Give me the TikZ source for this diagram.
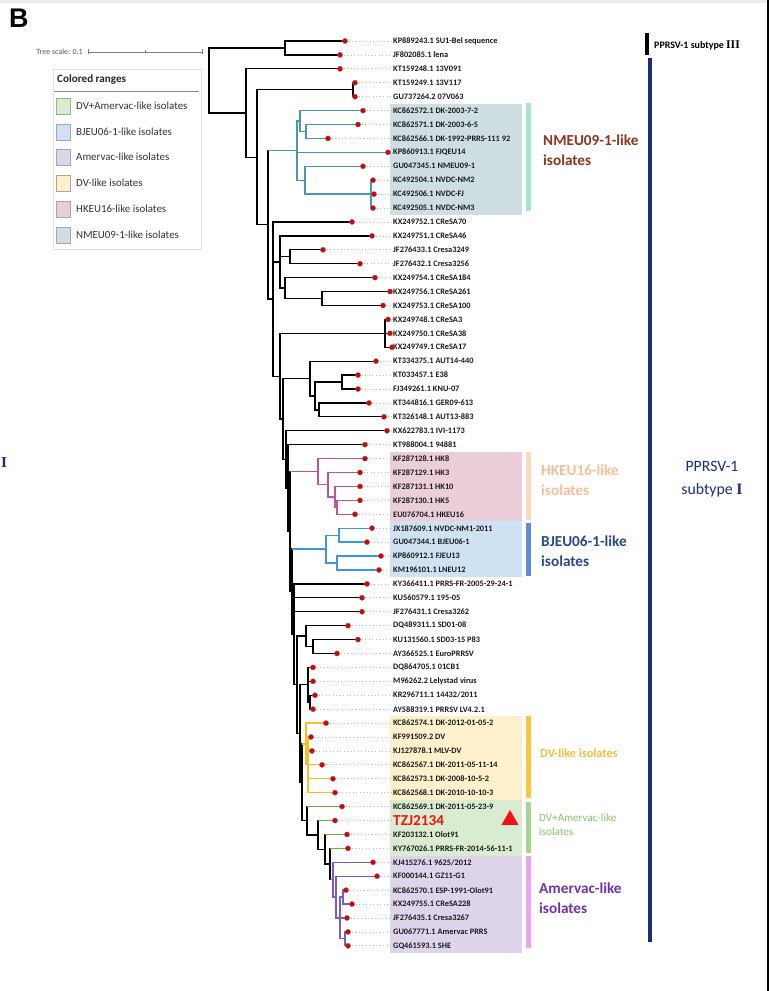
\documentclass[tikz,border=0pt]{standalone}
\usepackage{fontspec}
\setmainfont{Carlito}
\newfontfamily\romfont{Liberation Serif}
\newfontfamily\arialb{Liberation Sans}
\usetikzlibrary{calc,shapes.geometric}

\definecolor{nmeu}{RGB}{74,152,172}
\definecolor{hkeu}{RGB}{186,88,150}
\definecolor{bjeu}{RGB}{62,150,222}
\definecolor{dvl}{RGB}{248,190,40}
\definecolor{dvam}{RGB}{104,178,76}
\definecolor{amv}{RGB}{118,92,204}
\definecolor{nmeubg}{RGB}{206,222,226}
\definecolor{hkeubg}{RGB}{236,206,218}
\definecolor{bjeubg}{RGB}{206,226,244}
\definecolor{dvlbg}{RGB}{255,240,204}
\definecolor{dvambg}{RGB}{218,236,208}
\definecolor{amvbg}{RGB}{222,212,236}
\definecolor{nmeubar}{RGB}{168,230,200}
\definecolor{hkeubar}{RGB}{252,218,190}
\definecolor{bjeubar}{RGB}{100,140,212}
\definecolor{dvlbar}{RGB}{250,200,60}
\definecolor{dvambar}{RGB}{166,212,146}
\definecolor{amvbar}{RGB}{236,166,240}
\definecolor{nmeutxt}{RGB}{140,52,30}
\definecolor{hkeutxt}{RGB}{246,190,150}
\definecolor{bjeutxt}{RGB}{40,72,140}
\definecolor{dvltxt}{RGB}{244,190,60}
\definecolor{dvamtxt}{RGB}{136,192,112}
\definecolor{amvtxt}{RGB}{112,48,176}
\definecolor{navy}{RGB}{28,44,120}
\definecolor{tzjred}{RGB}{240,20,20}

\tikzset{
  branch/.style={line width=1.1pt},
  guide/.style={gray!55, line width=0.6pt, dash pattern=on 0.7pt off 2.3pt},
  tipdot/.style={fill=red!85!black, draw=black!55, line width=0.3pt},
  leaflab/.style={anchor=west, inner sep=0pt, text=black!90, font=\fontsize{7.1}{8}\selectfont\bfseries},
  grplab/.style={anchor=west, inner sep=0pt, align=left, font=\fontsize{13}{17}\selectfont\bfseries},
  legtxt/.style={anchor=west, inner sep=0pt, text=black!80, font=\fontsize{9.3}{10}\selectfont},
  tzjmark/.style={regular polygon, regular polygon sides=3, fill=tzjred, inner sep=0pt, minimum size=17}
}

% internal node: [colour] name x first-child last-child
\newcommand\jn[5][black]{%
  \path let \p1=(#4), \p2=(#5), \p3=(#3,0) in (\x3,{(\y1+\y2)/2}) coordinate (#2);
  \draw[branch,#1] (#4) -| (#2) |- (#5);}
% extra child of a node
\newcommand\jm[3][black]{\draw[branch,#1] (#2 |- #3) -- (#3);}
\newcommand\tzjlab{\textcolor{tzjred}{\fontsize{13}{14}\selectfont\bfseries TZJ2134}}

\begin{document}
\begin{tikzpicture}[x=0.03cm, y=-0.03cm]
\useasboundingbox (0,0) rectangle (769,991);
%%%%% FRAME %%%%%
\fill[black!8] (0,0) rectangle (769,3);
\fill[black] (766.5,0) rectangle (769,991);
\node[anchor=west, inner sep=0pt, font=\arialb\fontsize{23}{24}\selectfont\bfseries] (panel) at (9,18) {B};

%%%%% COLOURED RANGES %%%%%
\fill[nmeubg] (390,104) rectangle (522,215);
\fill[hkeubg] (390,452) rectangle (522,521);
\fill[bjeubg] (390,521) rectangle (522,577);
\fill[dvlbg] (390,716) rectangle (522,800);
\fill[dvambg] (390,800) rectangle (522,856);
\fill[amvbg] (390,856) rectangle (522,953);

%%%%% LEAVES %%%%%
\foreach \i/\tx/\lab in {1/345/{KP889243.1 SU1-Bel sequence}, 2/340/{JF802085.1 lena},
  3/340/{KT159248.1 13V091}, 4/355/{KT159249.1 13V117}, 5/355/{GU737264.2 07V063},
  6/363/{KC862572.1 DK-2003-7-2}, 7/358/{KC862571.1 DK-2003-6-5}, 8/328/{KC862566.1 DK-1992-PRRS-111 92},
  9/388/{KP860913.1 FJQEU14}, 10/363/{GU047345.1 NMEU09-1}, 11/373/{KC492504.1 NVDC-NM2},
  12/374/{KC492506.1 NVDC-FJ}, 13/373/{KC492505.1 NVDC-NM3}, 14/352/{KX249752.1 CReSA70},
  15/372/{KX249751.1 CReSA46}, 16/323/{JF276433.1 Cresa3249}, 17/360/{JF276432.1 Cresa3256},
  18/375/{KX249754.1 CReSA184}, 19/390/{KX249756.1 CReSA261}, 20/383/{KX249753.1 CReSA100},
  21/388/{KX249748.1 CReSA3}, 22/390/{KX249750.1 CReSA38}, 23/392/{KX249749.1 CReSA17},
  24/376/{KT334375.1 AUT14-440}, 25/358/{KT033457.1 E38}, 26/358/{FJ349261.1 KNU-07},
  27/369/{KT344816.1 GER09-613}, 28/384/{KT326148.1 AUT13-883}, 29/387/{KX622783.1 IVI-1173},
  30/365/{KT988004.1 94881}, 31/365/{KF287128.1 HK8}, 32/360/{KF287129.1 HK3},
  33/360/{KF287131.1 HK10}, 34/360/{KF287130.1 HK5}, 35/355/{EU076704.1 HKEU16},
  36/372/{JX187609.1 NVDC-NM1-2011}, 37/367/{GU047344.1 BJEU06-1}, 38/381/{KP860912.1 FJEU13},
  39/379/{KM196101.1 LNEU12}, 40/367/{KY366411.1 PRRS-FR-2005-29-24-1}, 41/362/{KU560579.1 195-05},
  42/362/{JF276431.1 Cresa3262}, 43/348/{DQ489311.1 SD01-08}, 44/358/{KU131560.1 SD03-15 P83},
  45/337/{AY366525.1 EuroPRRSV}, 46/313/{DQ864705.1 01CB1}, 47/313/{M96262.2 Lelystad virus},
  48/315/{KR296711.1 14432/2011}, 49/313/{AY588319.1 PRRSV LV4.2.1}, 50/326/{KC862574.1 DK-2012-01-05-2},
  51/311/{KF991509.2 DV}, 52/312/{KJ127878.1 MLV-DV}, 53/322/{KC862567.1 DK-2011-05-11-14},
  54/333/{KC862573.1 DK-2008-10-5-2}, 55/335/{KC862568.1 DK-2010-10-10-3}, 56/342/{KC862569.1 DK-2011-05-23-9},
  57/335/{\tzjlab}, 58/347/{KF203132.1 Olot91}, 59/348/{KY767026.1 PRRS-FR-2014-56-11-1},
  60/373/{KJ415276.1 9625/2012}, 61/377/{KF000144.1 GZ11-G1}, 62/346/{KC862570.1 ESP-1991-Olot91},
  63/352/{KX249755.1 CReSA228}, 64/347/{JF276435.1 Cresa3267}, 65/348/{GU067771.1 Amervac PRRS},
  66/348/{GQ461593.1 SHE}}{
  \coordinate (L\i) at (\tx,{41+13.92*(\i-1)});
  \node[leaflab] (t\i) at (393,{41+13.92*(\i-1)}) {\lab};
}
\foreach \i in {1,...,66}{\draw[guide] (L\i) -- (t\i.west);}

%%%%% TREE %%%%%
\jn{A}{285}{L1}{L2}
\jn{D}{353}{L4}{L5}
% NMEU09-1-like
\jn[nmeu]{n78}{306}{L7}{L8}
\jn[nmeu]{n68}{300}{L6}{n78}
\jn[nmeu]{n1113}{371}{L11}{L13} \jm[nmeu]{n1113}{L12}
\jn[nmeu]{n1013}{305}{L10}{n1113}
\jn[nmeu]{T}{297}{n68}{n1013} \jm[nmeu]{T}{L9}
% CReSA group
\jn{n1617}{290}{L16}{L17}
\jn{n1920}{322}{L19}{L20}
\jn{n1820}{285}{L18}{n1920}
\jn{E3}{280}{L15}{n1820} \jm{E3}{n1617}
\jn{n2123}{385}{L21}{L23} \jm{n2123}{L22}
\jn{n2526}{342}{L25}{L26}
\jn{n2728}{319}{L27}{L28}
\jn{n2528}{315}{n2526}{n2728}
\jn{n2428}{310}{L24}{n2528}
% HKEU16-like
\jn[hkeu]{Pk4}{337}{L34}{L35}
\jn[hkeu]{Pk3}{335}{L33}{Pk4}
\jn[hkeu]{Pk2}{328}{L32}{Pk3}
\jn[hkeu]{Pk}{318}{L31}{Pk2}
% BJEU06-1-like
\jn[bjeu]{n3637}{339}{L36}{L37}
\jn[bjeu]{n3839}{337}{L38}{L39}
\jn[bjeu]{Bl}{326}{n3637}{n3839}
\jn{n4445}{313}{L44}{L45}
\jn{n4345}{306}{L43}{n4445}
\jn{n4849}{310}{L48}{L49}
\jn{n4649}{308}{L46}{n4849} \jm{n4649}{L47}
% DV-like
\jn[dvl]{Y2}{308}{L51}{L55} \jm[dvl]{Y2}{L52} \jm[dvl]{Y2}{L53} \jm[dvl]{Y2}{L54}
\jn[dvl]{Y}{306}{L50}{Y2}
% Amervac-like
\jn[amv]{n6263}{343}{L62}{L63}
\jn[amv]{n6566}{345}{L65}{L66}
\jn[amv]{P3}{340}{n6263}{n6566} \jm[amv]{P3}{L64}
\jn[amv]{P2}{336}{L61}{P3}
\jn[amv]{P}{333}{L60}{P2}
% DV+Amervac ladder
\jn{G4}{330}{L59}{P}
\jn{G3}{325}{L58}{G4}
\jn{G2}{318}{L57}{G3}
\jn{G1}{307}{L56}{G2}
% backbone
\jn{E13}{302}{Y}{G1}
\jn{E12}{300}{n4649}{E13}
\jn{E11}{297}{n4345}{E12}
\jn{E10}{294}{L40}{E11} \jm{E10}{L41} \jm{E10}{L42}
\jn{E9}{292}{Bl}{E10}
\jn{E8}{290}{Pk}{E9}
\jn{E7}{288}{L30}{E8}
\jn{E6}{286}{L29}{E7}
\jn{E5}{283}{n2428}{E6}
\jn{E4}{280}{n2123}{E5}
\jn{E2}{273}{L14}{E4} \jm{E2}{E3}
\jn{E}{268}{T}{E2}
\jn{C}{257}{D}{E}
\jn{B}{246}{L3}{C}
\jn{R}{209}{A}{B}
% coloured stems
\draw[branch,nmeu] (E |- T) -- (T);
\draw[branch,hkeu] (E8 |- Pk) -- (Pk);
\draw[branch,bjeu] (E9 |- Bl) -- (Bl);
\draw[branch,dvl] (E13 |- Y) -- (Y);
\draw[branch,amv] (G4 |- P) -- (P);
\foreach \g/\l in {G1/L56,G2/L57,G3/L58,G4/L59}{\draw[branch,dvam] (\g |- \l) -- (\l);}
\foreach \i in {1,...,66}{\filldraw[tipdot] (L\i) circle (2.6);}

%%%%% GROUP BARS %%%%%
\fill[nmeubar] (526,103) rectangle (531,211);
\fill[hkeubar] (526,452) rectangle (531,520);
\fill[bjeubar] (526,523) rectangle (531,576);
\fill[dvlbar] (526,716) rectangle (531,798);
\fill[dvambar] (526,802) rectangle (531,853);
\fill[amvbar] (526,856) rectangle (531,948);
\node[grplab, text=nmeutxt] (gnmeu) at (543,150) {NMEU09-1-like\\isolates};
\node[grplab, text=hkeutxt] (ghkeu) at (541,480) {HKEU16-like\\isolates};
\node[grplab, text=bjeutxt] (gbjeu) at (541,551) {BJEU06-1-like\\isolates};
\node[grplab, text=dvltxt, font=\fontsize{10.5}{12}\selectfont\bfseries] (gdvl) at (540,753) {DV-like isolates};
\node[grplab, text=dvamtxt, font=\fontsize{9.5}{12}\selectfont] (gdvam) at (539,825) {DV+Amervac-like\\isolates};
\node[grplab, text=amvtxt] (gamv) at (539,898) {Amervac-like\\isolates};
\node[tzjmark] (mark) at (510,820) {};

%%%%% SUBTYPES %%%%%
\fill[black] (644.5,33) rectangle (648.5,55);
\fill[navy] (648,58) rectangle (652,942);
\node[anchor=west, inner sep=0pt, font=\fontsize{8.5}{9}\selectfont\bfseries] (st3) at (654,45) {PPRSV-1 subtype {\romfont\fontsize{10}{10}\selectfont III}};
\node[inner sep=0pt, text=navy, align=center, font=\fontsize{13.5}{20}\selectfont] (st1) at (712,479) {PPRSV-1\\subtype {\romfont\bfseries I}};
\node[anchor=west, inner sep=0pt, text=navy, font=\romfont\bfseries\fontsize{13}{14}\selectfont] (edge) at (1,463) {I};

%%%%% SCALE AND LEGEND %%%%%
\node[anchor=east, inner sep=0pt, text=black!65, font=\fontsize{6.8}{8}\selectfont] (scl) at (83,52) {Tree scale: 0.1};
\coordinate (s0) at (88,52);
\coordinate (s1) at (202,52);
\draw[gray, line width=0.5pt] (s0) -- (s1);
\foreach \sx/\h in {88/2.5,145/1.5,202/2.5}{\draw[gray, line width=0.5pt] (\sx,52-\h) -- (\sx,52+\h);}
\draw[black!12, line width=0.5pt] (53,69) rectangle (201,249);
\node[anchor=west, inner sep=0pt, font=\fontsize{9.5}{10}\selectfont\bfseries, text=black!85] (legt) at (57,80) {Colored ranges};
\draw[black!45, line width=0.5pt] (54,91) -- (199,91);
\foreach \ly/\c/\t in {106/dvambg/{DV+Amervac-like isolates}, 132/bjeubg/{BJEU06-1-like isolates},
  157/amvbg/{Amervac-like isolates}, 183/dvlbg/{DV-like isolates},
  209/hkeubg/{HKEU16-like isolates}, 235/nmeubg/{NMEU09-1-like isolates}}{
  \draw[black!35, fill=\c, line width=0.5pt] (56,\ly-8) rectangle (70,\ly+8);
  \node[legtxt] at (76,\ly) {\t};
}
\end{tikzpicture}
\end{document}
